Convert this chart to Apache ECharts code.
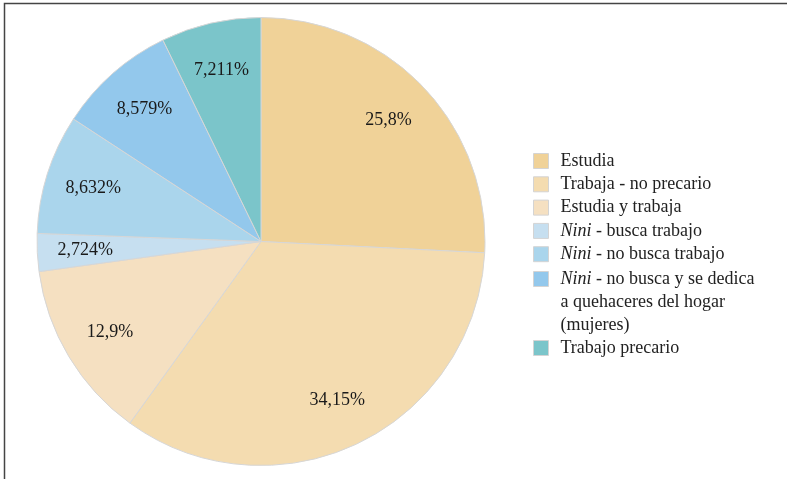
<!DOCTYPE html>
<html>
<head>
<meta charset="utf-8">
<script src="https://cdn.jsdelivr.net/npm/echarts@6/dist/echarts.min.js"></script>
<style>
html,body{margin:0;padding:0;background:#fff;}
#chart{width:787px;height:479px;}
</style>
</head>
<body>
<div id="chart"></div>
<script>
const categories = [
  'Estudia',
  'Trabaja - no precario',
  'Estudia y trabaja',
  'Nini - busca trabajo',
  'Nini - no busca trabajo',
  'Nini - no busca y se dedica a quehaceres del hogar (mujeres)',
  'Trabajo precario'
];
const values = [25.8, 34.15, 12.9, 2.724, 8.632, 8.579, 7.211];
const valueLabels = ['25,8%', '34,15%', '12,9%', '2,724%', '8,632%', '8,579%', '7,211%'];
const colors = ['#f0d298', '#f4dcb0', '#f5e0c1', '#c6dff0', '#aad5ec', '#93c8ec', '#7bc5ca'];

const FONT = "'Liberation Serif', 'DejaVu Serif', serif";
const chart = echarts.init(document.getElementById('chart'));

const pieData = categories.map((c, i) => ({name: c, value: values[i], itemStyle: {color: colors[i]}}));
const labelData = categories.map((c, i) => ({name: c, value: values[i], label: {formatter: valueLabels[i]}}));

function legendFmt(name) {
  if (name === categories[5]) return '{i|Nini} - no busca y se dedica\na quehaceres del hogar\n(mujeres)';
  return name.replace(/^Nini/, '{i|Nini}');
}
const baseLegend = {
  orient: 'vertical', left: 533, padding: 0, itemWidth: 15, itemHeight: 15,
  icon: 'rect', selectedMode: false, formatter: legendFmt,
  itemStyle: {borderColor: '#d4d4d4', borderWidth: 1}
};
function txt(lh, pad) {
  return {fontFamily: FONT, fontSize: 18, color: '#222', lineHeight: lh, padding: pad,
    rich: {i: {fontFamily: FONT, fontSize: 18, fontStyle: 'italic', color: '#222', lineHeight: lh}}};
}

chart.setOption({
  animation: false,
  graphic: [{type: 'rect', shape: {x: 4.5, y: 3.5, width: 800, height: 500}, style: {fill: 'none', stroke: '#444', lineWidth: 1.5}, silent: true}],
  legend: [
    Object.assign({}, baseLegend, {top: 152, itemGap: 5.3, data: categories.slice(0, 5), textStyle: txt(18, [0, 0, 0, 7])}),
    Object.assign({}, baseLegend, {top: 220.75, data: [categories[5]], textStyle: txt(23.3, [46.6, 0, 0, 7])}),
    Object.assign({}, baseLegend, {top: 339, data: [categories[6]], textStyle: txt(18, [0, 0, 0, 7])})
  ],
  series: [
    {
      type: 'pie', center: [261, 241.5], radius: [0, 224], startAngle: 90, clockwise: true,
      silent: true, label: {show: false}, labelLine: {show: false},
      itemStyle: {borderColor: '#d6d6d6', borderWidth: 1},
      data: pieData
    },
    {
      type: 'pie', center: [261, 241.5], radius: [106, 240], startAngle: 90, clockwise: true,
      silent: true, legendHoverLink: false,
      itemStyle: {color: 'rgba(0,0,0,0)', borderWidth: 0},
      label: {show: true, position: 'inside', fontFamily: FONT, fontSize: 18, color: '#1a1a1a'},
      labelLine: {show: false},
      data: labelData
    }
  ]
});
</script>
</body>
</html>
